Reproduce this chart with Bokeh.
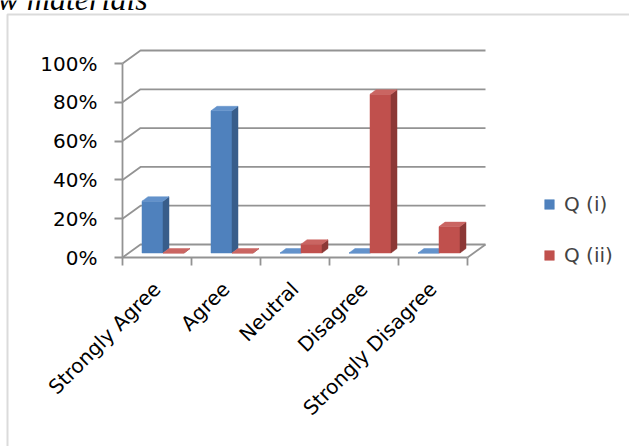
import math
from bokeh.plotting import figure
from bokeh.models import (Range1d, FixedTicker, Legend, LegendItem, BoxAnnotation,
                          Label, ColumnDataSource)
from bokeh.embed import file_html
from bokeh.resources import INLINE

# ---------------- data ----------------
categories = ["Strongly Agree", "Agree", "Neutral", "Disagree", "Strongly Disagree"]
series_names = ["Q (i)", "Q (ii)"]
q_i = [0.267, 0.733, 0.0, 0.0, 0.0]
q_ii = [0.0, 0.0, 0.045, 0.818, 0.136]
y_ticks = [0.0, 0.2, 0.4, 0.6, 0.8, 1.0]
y_tick_labels = ["0%", "20%", "40%", "60%", "80%", "100%"]

# ---------------- layout / style ----------------
W, H = 629, 446
ORIGIN_X, ORIGIN_Y = 122, 257            # px position of (0, 0%) on the canvas
PX_PER_CAT, PX_PER_UNIT = 69.0, 194.0   # px per category, px per 100 %
DX, DY = 18 / PX_PER_CAT, 13 / PX_PER_UNIT        # wall depth
SX, SY = 6 / PX_PER_CAT, 4.5 / PX_PER_UNIT        # bar front offset / bar depth
BW = 21 / PX_PER_CAT                              # bar width
FONT = "DejaVu Sans"
FSIZE = "20px"
GRID = "#939393"
front_cols = ["#4F81BD", "#C0504D"]
side_cols = ["#385D8A", "#8C3836"]
top_cols = ["#6392CB", "#CA6562"]

p = figure(width=W, height=H, output_backend="svg", toolbar_location=None,
           x_range=Range1d(-ORIGIN_X / PX_PER_CAT, (W - ORIGIN_X) / PX_PER_CAT),
           y_range=Range1d(-(H - ORIGIN_Y) / PX_PER_UNIT, ORIGIN_Y / PX_PER_UNIT),
           min_border_left=0, min_border_bottom=0,
           min_border_top=0, min_border_right=0)
p.outline_line_color = None
p.grid.visible = False
p.background_fill_color = "white"
p.border_fill_color = "white"

# y axis (fixed at x = 0 inside the frame)
ya = p.yaxis[0]
ya.fixed_location = 0
ya.ticker = FixedTicker(ticks=y_ticks)
ya.major_label_overrides = {t: l for t, l in zip(y_ticks, y_tick_labels)}
ya.bounds = (0, 1)
ya.axis_line_color = GRID
ya.axis_line_width = 1.8
ya.major_tick_line_color = GRID
ya.major_tick_line_width = 1.8
ya.major_tick_out = 8
ya.major_tick_in = 0
ya.minor_tick_line_color = None
ya.major_label_standoff = 17
ya.major_label_text_font = FONT
ya.major_label_text_font_size = FSIZE
ya.major_label_text_color = "black"

# x axis (fixed at y = 0 inside the frame)
n = len(categories)
centers = [i + 0.5 for i in range(n)]
xa = p.xaxis[0]
xa.fixed_location = 0
xa.ticker = FixedTicker(ticks=centers, minor_ticks=list(range(n + 1)))
xa.major_label_overrides = {c: lab for c, lab in zip(centers, categories)}
xa.bounds = (0, n)
xa.axis_line_color = GRID
xa.axis_line_width = 1.8
xa.major_tick_line_color = None
xa.major_tick_out = 0
xa.minor_tick_line_color = GRID
xa.minor_tick_line_width = 1.8
xa.minor_tick_out = 8
xa.minor_tick_in = 0
xa.major_label_orientation = math.pi / 4
xa.major_label_standoff = 20
xa.major_label_text_font = FONT
xa.major_label_text_font_size = FSIZE
xa.major_label_text_color = "black"

# walls: slanted lines + back gridlines
gx, gy = [], []
for t in y_ticks:
    gx.append([0, DX, n + DX])
    gy.append([t, t + DY, t + DY])
gx.append([n, n + DX])
gy.append([0, DY])
p.multi_line(gx, gy, line_color=GRID, line_width=1.8)

# 3-D bars
xs, ys, cols = [], [], []
front_index = {}
for i in range(n):
    for s, vals in enumerate([q_i, q_ii]):
        v = vals[i]
        xc = centers[i] + (s - 0.5) * BW
        l, r = xc - BW / 2 + SX, xc + BW / 2 + SX
        b, t = SY, v + SY
        front_index.setdefault(s, len(xs))
        xs.append([l, r, r, l]); ys.append([b, b, t, t]); cols.append(front_cols[s])
        xs.append([r, r + SX, r + SX, r]); ys.append([b, b + SY, t + SY, t]); cols.append(side_cols[s])
        xs.append([l, r, r + SX, l + SX]); ys.append([t, t, t + SY, t + SY]); cols.append(top_cols[s])

src = ColumnDataSource(dict(xs=xs, ys=ys, color=cols))
bars = p.patches("xs", "ys", source=src, fill_color="color", line_color="color", line_width=0.5)

legend = Legend(items=[LegendItem(label=series_names[s], renderers=[bars], index=front_index[s])
                       for s in range(2)],
                location=(543, H - 267),
                orientation="vertical", glyph_width=12, glyph_height=12,
                label_height=20, spacing=27, padding=0, margin=0,
                label_standoff=9, border_line_color=None, background_fill_alpha=0,
                label_text_font=FONT, label_text_font_size=FSIZE)
p.add_layout(legend)

# outer chart border and the cut-off caption above it
p.add_layout(BoxAnnotation(left=(7 - ORIGIN_X) / PX_PER_CAT, right=100,
                           top=(ORIGIN_Y - 14) / PX_PER_UNIT, bottom=-100,
                           fill_alpha=0, line_color="#888888", line_width=2))
p.add_layout(Label(x=(-3 - ORIGIN_X) / PX_PER_CAT, y=(ORIGIN_Y + 2) / PX_PER_UNIT,
                   text="w materials", text_font="Liberation Serif", text_font_style="italic",
                   text_font_size="32px", text_color="black", text_baseline="alphabetic"))

open("out.html", "w").write(file_html(p, INLINE))
